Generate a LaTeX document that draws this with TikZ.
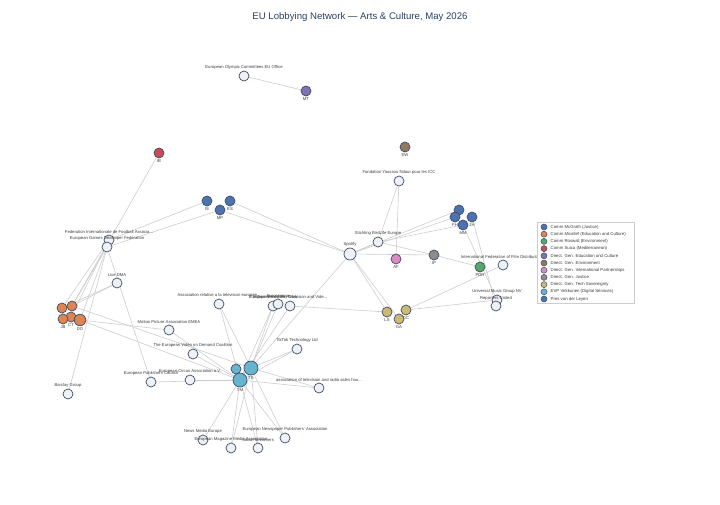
\documentclass[tikz,border=0pt]{standalone}
\usepackage{fontspec}
\setmainfont{Liberation Sans}
\usetikzlibrary{backgrounds}
\definecolor{ndb}{HTML}{3E4E66}
\definecolor{wfill}{HTML}{EEF2F6}
\definecolor{edc}{HTML}{CDCDCD}
\definecolor{labc}{HTML}{3A3A3A}
\definecolor{ttl}{HTML}{2A3F5F}
\definecolor{cBlue}{HTML}{4C72B0}
\definecolor{cOrange}{HTML}{DD8452}
\definecolor{cGreen}{HTML}{55A868}
\definecolor{cRed}{HTML}{C44E52}
\definecolor{cPurple}{HTML}{8172B3}
\definecolor{cBrown}{HTML}{937860}
\definecolor{cPink}{HTML}{DA8BC3}
\definecolor{cGray}{HTML}{8C8C8C}
\definecolor{cTan}{HTML}{CCB974}
\definecolor{cCyan}{HTML}{64B5CD}
\tikzset{
  nd/.style={circle, draw=ndb, line width=0.7pt, inner sep=0pt, minimum size=10pt},
  wn/.style={nd, fill=wfill},
  cn/.style={nd, fill=#1},
  lbl/.style={font=\fontsize{4.2}{4.2}\selectfont, text=labc, inner sep=0.4pt},
  ed/.style={draw=edc, line width=0.6pt},
  every label/.style={lbl},
  label distance=0.6pt,
  legtxt/.style={font=\fontsize{4.3}{4.3}\selectfont, text=labc, inner sep=0pt, anchor=west},
  legmk/.style={circle, draw=ndb, line width=0.5pt, inner sep=0pt, minimum size=6pt, fill=#1}
}
\begin{document}
\begin{tikzpicture}[x=1pt,y=-1pt]
\useasboundingbox (0,0) rectangle (720,504);
\node[font=\fontsize{9.6}{9.6}\selectfont, text=ttl] (title) at (360,17) {EU Lobbying Network — Arts \& Culture, May 2026};

% top
\node[wn, label=above:European Olympic Committees EU Office] (eoc) at (244,76) {};
\node[cn=cPurple, label=below:MT] (mt) at (306,91) {};
\node[cn=cRed, label=below:IB] (ib) at (159,153) {};
\node[cn=cBlue, label=below:IS] (is) at (207,201) {};
\node[cn=cBlue, label=below:ES] (es) at (230,201) {};
\node[cn=cBlue, label=below:MP] (mp) at (220,210) {};
\node[cn=cBrown, label=below:EW] (ew) at (405,147) {};
\node[wn, label=above:Fondation Youssou Ndour pour les ICC] (fyn) at (399,181) {};

% right blue cluster
\node[cn=cBlue] (b1) at (459,210) {};
\node[cn=cBlue, label=below:FH] (fh) at (455,217) {};
\node[cn=cBlue, label=below:JH] (jh) at (472,217) {};
\node[cn=cBlue, label=below:MM] (mm) at (463,225) {};

\node[wn, label=above:Stichting BirdLife Europe] (sbe) at (378,242) {};
\node[wn, minimum size=12pt, label=above:Spotify] (spo) at (350,254) {};
\node[cn=cPink, label=below:AF] (af) at (396,259) {};
\node[cn=cGray, label=below:IP] (ip) at (434,255) {};
\node[cn=cGreen, label=below:PDR] (pdr) at (480,267) {};
\node[wn, label=above:International Federation of Film Distributors...] (iffd) at (503,265) {};
\node[wn, label={[label distance=1pt]above:Universal Music Group NV}] (umg) at (497,300) {};
\node[wn, label={[label distance=0pt]above:Reporters United}] (ru) at (496,306) {};
\node[cn=cTan, label=below:LS] (ls) at (387,312) {};
\node[cn=cTan, label=below:DC] (dc) at (406,310) {};
\node[cn=cTan, label=below:GA] (ga) at (399,319) {};

% left
\node[wn, label=above:Federation Internationale de Football Associa...] (fifa) at (109,240) {};
\node[wn, label=above:European Games Developer Federation] (egdf) at (107,247) {};
\node[wn, label=above:Live DMA] (ldma) at (117,283) {};
\node[cn=cOrange] (o1) at (62,308) {};
\node[cn=cOrange] (o2) at (72,306) {};
\node[cn=cOrange, label=below:CT] (oct) at (71,317) {};
\node[cn=cOrange, label=below:JB] (ojb) at (63,319) {};
\node[cn=cOrange, minimum size=11.5pt, label=below:DO] (odo) at (80,320) {};
\node[wn, label=above:Barclay Group] (bar) at (68,394) {};

% centre
\node[wn, label=above:Motion Picture Association EMEA] (mpa) at (169,330) {};
\node[wn, label=above:Association relative a la television europee...] (arte) at (219,304) {};
\node[wn, label=above:European Producers Club] (c1) at (273,306) {};
\node[wn, label=above:Eurocinema] (c2) at (278,304) {};
\node[wn, label=above:Independent Film{,} Television and Vide...] (c3) at (290,306) {};
\node[wn, label=above:TikTok Technology Ltd] (tik) at (297,349) {};
\node[wn, label=above:The European Video on Demand Coalition] (evod) at (193,354) {};
\node[wn, label=above:European Circus Association a.V.] (eca) at (190,380) {};
\node[wn, label=above:European Publishers Council] (epc) at (151,382) {};
\node[wn, label=above:association of television and radio sales hou...] (atr) at (319,388) {};
\node[cn=cCyan] (tsm) at (236,369) {};
\node[cn=cCyan, minimum size=14pt, label=below:TS] (ts) at (251,368) {};
\node[cn=cCyan, minimum size=14pt, label=below:TM] (tm) at (240,380) {};

% bottom
\node[wn, label=above:European Newspaper Publishers' Association] (enpa) at (285,438) {};
\node[wn, label=above:News Media Europe] (nme) at (203,440) {};
\node[wn, label=above:European Magazine Media Association] (emma) at (231,448) {};
\node[wn, label=above:Social Streamers] (ss) at (258,448) {};

\begin{pgfonlayer}{background}
\foreach \a/\b in {eoc/mt, ib/o2, is/fifa, mp/egdf, es/spo, mp/spo,
  fyn/sbe, fyn/af, spo/sbe, spo/fh, spo/b1, sbe/mm, spo/ip, sbe/ip, ip/pdr,
  mm/umg, jh/ru, iffd/dc, dc/umg, c3/ls, spo/ls, spo/ga, spo/ts,
  o1/ldma, o2/ldma, o1/fifa, o2/egdf, oct/fifa, odo/egdf, fifa/bar,
  odo/mpa, odo/tm, o2/ts, egdf/epc,
  mpa/tm, evod/tm, arte/tm, arte/ts, c1/tm, c2/ts, c1/ts, c3/tm,
  tik/ts, tik/tm, eca/tm, epc/tm, atr/tm, atr/ts,
  nme/tm, emma/tm, emma/ts, ss/tm, ss/ts, enpa/tm, enpa/ts}
  \draw[ed] (\a) -- (\b);
\end{pgfonlayer}

% legend
\draw[draw=edc, line width=0.5pt, fill=white] (537,222) rectangle (634,303);
\foreach \c/\t [count=\i from 0] in {
  cBlue/Comm McGrath (Justice),
  cOrange/Comm Micallef (Education and Culture),
  cGreen/Comm Roswall (Environment),
  cRed/Comm Suica (Mediterranean),
  cPurple/Direct. Gen. Education and Culture,
  cBrown/Direct. Gen. Environment,
  cPink/Direct. Gen. International Partnerships,
  cGray/Direct. Gen. Justice,
  cTan/Direct. Gen. Tech Sovereignty,
  cCyan/EVP Virkkunen (Digital Services),
  cBlue/Pres von der Leyen}
{
  \node[legmk=\c] (lm\i) at (544,227+7.2*\i) {};
  \node[legtxt] (lt\i) at (550.5,227+7.2*\i) {\t};
}
\end{tikzpicture}
\end{document}
